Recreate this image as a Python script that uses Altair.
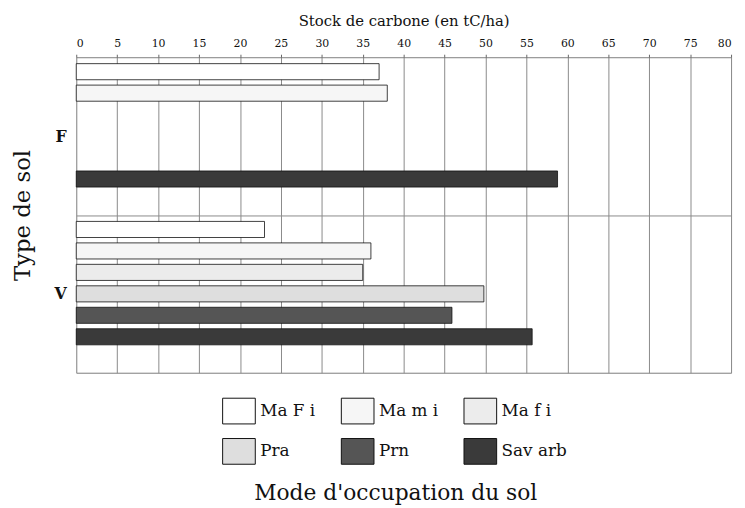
import altair as alt
import pandas as pd

soil_types = ["F", "F", "F", "V", "V", "V", "V", "V", "V"]
modes = ["Ma F i", "Ma m i", "Sav arb", "Ma F i", "Ma m i", "Ma f i", "Pra", "Prn", "Sav arb"]
values = [37, 38, 58.8, 23, 36, 35, 49.8, 45.9, 55.7]

mode_order = ["Ma F i", "Ma m i", "Ma f i", "Pra", "Prn", "Sav arb"]
mode_colors = ["#ffffff", "#f6f6f6", "#ececec", "#dedede", "#555555", "#3a3a3a"]
x_ticks = list(range(0, 85, 5))

df = pd.DataFrame({"type": soil_types, "mode": modes, "value": values})

FONT = "DejaVu Serif"

bars = alt.Chart(df).mark_bar(stroke="#111111", strokeWidth=0.8).encode(
    x=alt.X(
        "value:Q",
        scale=alt.Scale(domain=[0, 80], nice=False),
        axis=alt.Axis(
            orient="top", values=x_ticks, title="Stock de carbone (en tC/ha)",
            labelFont=FONT, labelFontSize=11, labelColor="#111111",
            titleFont=FONT, titleFontSize=15, titleFontWeight="normal", titleColor="#111111",
            titlePadding=9, tickSize=3, tickColor="#666666", labelPadding=6,
            domain=False, grid=True, gridColor="#8a8a8a", gridWidth=1,
        ),
    ),
    y=alt.Y(
        "type:N",
        sort=["F", "V"],
        scale=alt.Scale(paddingInner=0, paddingOuter=0),
        axis=alt.Axis(
            title="Type de sol", labelFont=FONT, labelFontSize=16, labelFontWeight="bold",
            labelColor="#111111", labelPadding=10, labelAngle=0,
            titleFont=FONT, titleFontSize=23, titleFontWeight="normal", titleColor="#111111",
            titlePadding=20, ticks=False, domain=False, grid=True, tickBand="extent",
            gridColor="#8a8a8a", gridWidth=1,
        ),
    ),
    yOffset=alt.YOffset(
        "mode:N",
        scale=alt.Scale(domain=mode_order + ["_"], paddingInner=0.25, paddingOuter=0.3),
    ),
    color=alt.Color(
        "mode:N",
        scale=alt.Scale(domain=mode_order, range=mode_colors),
        legend=alt.Legend(
            title="Mode d'occupation du sol", orient="none", legendX=151, legendY=344,
            columns=3, direction="horizontal", titleOrient="bottom", titleAnchor="middle",
            titleFont=FONT, titleFontSize=22, titleFontWeight="normal", titleColor="#111111",
            titlePadding=17, titleLimit=600, labelFont=FONT, labelFontSize=17,
            labelColor="#111111", labelOffset=8,
            symbolType="M-1.27,-1L1.27,-1L1.27,1L-1.27,1Z",
            symbolSize=676, symbolStrokeColor="#111111", symbolStrokeWidth=1,
            columnPadding=23, rowPadding=10, padding=0, labelLimit=200,
        ),
    ),
)

chart = bars.properties(
    width=662, height=319,
    padding={"left": 69, "top": 47, "right": 6, "bottom": 134},
    autosize=alt.AutoSizeParams(type="none"),
).configure_view(stroke="#555555", strokeWidth=1).configure(background="white")

chart.save("out.html", embed_options={"renderer": "svg", "actions": False})
